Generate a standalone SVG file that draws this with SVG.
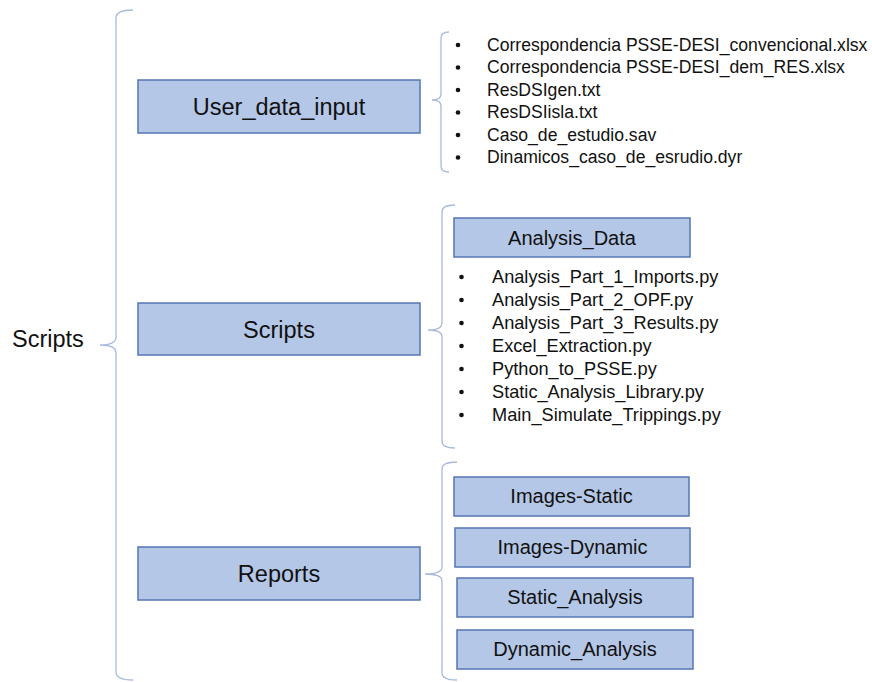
<svg xmlns="http://www.w3.org/2000/svg" width="872" height="682" viewBox="0 0 872 682">
  <style>
    .box { fill: #b4c7e7; stroke: #5676b4; stroke-width: 1.5; }
    .brace { fill: none; stroke: #a8bbdf; stroke-width: 1.3; }
    .lbl { font-family: "Liberation Sans", Arial, sans-serif; fill: #111; text-anchor: middle; }
    .big { font-size: 23.5px; }
    .mid { font-size: 20px; }
    .item { font-family: "Liberation Sans", Arial, sans-serif; fill: #111; font-size: 17.6px; }
    .item2 { font-size: 18.2px; }
    .dot { fill: #111; }
  </style>
  <rect width="872" height="682" fill="#ffffff"/>

  <!-- root label -->
  <g id="root">
    <text x="12" y="347" font-family="Liberation Sans, Arial, sans-serif" font-size="23.5" fill="#111">Scripts</text>
  </g>

  <!-- curly braces -->
  <g id="connectors">
    <path class="brace" d="M133,10 Q116,10 116,18 L116,337 Q116,345 100,345 Q116,345 116,353 L116,672 Q116,680 133,680"/>
    <path class="brace" d="M449,32 Q441,32 441,38 L441,94 Q441,100 432,100 Q441,100 441,106 L441,166 Q441,172 449,172"/>
    <path class="brace" d="M455,205 Q442,205 442,212 L442,323 Q442,330 428,330 Q442,330 442,337 L442,441 Q442,448 455,448"/>
    <path class="brace" d="M457,462 Q442,462 442,469 L442,567 Q442,574 425,574 Q442,574 442,581 L442,673 Q442,680 457,680"/>
  </g>

  <g id="user_data_input">
    <rect class="box" x="138" y="80" width="282" height="53"/>
    <text class="lbl big" x="279" y="115">User_data_input</text>
  </g>

  <g id="user_data_files">
    <circle class="dot" cx="458" cy="45" r="2.3"/>
    <circle class="dot" cx="458" cy="67.5" r="2.3"/>
    <circle class="dot" cx="458" cy="90" r="2.3"/>
    <circle class="dot" cx="458" cy="112.5" r="2.3"/>
    <circle class="dot" cx="458" cy="135" r="2.3"/>
    <circle class="dot" cx="458" cy="157.5" r="2.3"/>
    <text class="item" x="487" y="50.5">Correspondencia PSSE-DESI_convencional.xlsx</text>
    <text class="item" x="487" y="73">Correspondencia PSSE-DESI_dem_RES.xlsx</text>
    <text class="item" x="487" y="95.5">ResDSIgen.txt</text>
    <text class="item" x="487" y="118">ResDSIisla.txt</text>
    <text class="item" x="487" y="140.5">Caso_de_estudio.sav</text>
    <text class="item" x="487" y="163">Dinamicos_caso_de_esrudio.dyr</text>
  </g>

  <g id="scripts">
    <rect class="box" x="138" y="303" width="282" height="52"/>
    <text class="lbl big" x="279" y="338">Scripts</text>
  </g>

  <g id="analysis_data">
    <rect class="box" x="454" y="218" width="236" height="39"/>
    <text class="lbl mid" x="572" y="244.5">Analysis_Data</text>
  </g>

  <g id="script_files">
    <circle class="dot" cx="461.5" cy="277" r="2.3"/>
    <circle class="dot" cx="461.5" cy="300" r="2.3"/>
    <circle class="dot" cx="461.5" cy="323" r="2.3"/>
    <circle class="dot" cx="461.5" cy="346" r="2.3"/>
    <circle class="dot" cx="461.5" cy="369" r="2.3"/>
    <circle class="dot" cx="461.5" cy="392" r="2.3"/>
    <circle class="dot" cx="461.5" cy="415" r="2.3"/>
    <text class="item item2" x="492" y="282.5">Analysis_Part_1_Imports.py</text>
    <text class="item item2" x="492" y="305.5">Analysis_Part_2_OPF.py</text>
    <text class="item item2" x="492" y="328.5">Analysis_Part_3_Results.py</text>
    <text class="item item2" x="492" y="351.5">Excel_Extraction.py</text>
    <text class="item item2" x="492" y="374.5">Python_to_PSSE.py</text>
    <text class="item item2" x="492" y="397.5">Static_Analysis_Library.py</text>
    <text class="item item2" x="492" y="420.5">Main_Simulate_Trippings.py</text>
  </g>

  <g id="reports">
    <rect class="box" x="138" y="547" width="282" height="53"/>
    <text class="lbl big" x="279" y="582">Reports</text>
  </g>

  <g id="images_static">
    <rect class="box" x="454" y="477" width="235" height="39"/>
    <text class="lbl mid" x="571.5" y="503">Images-Static</text>
  </g>

  <g id="images_dynamic">
    <rect class="box" x="455" y="528" width="235" height="39"/>
    <text class="lbl mid" x="572.5" y="554">Images-Dynamic</text>
  </g>

  <g id="static_analysis">
    <rect class="box" x="457" y="578" width="236" height="39"/>
    <text class="lbl mid" x="575" y="604">Static_Analysis</text>
  </g>

  <g id="dynamic_analysis">
    <rect class="box" x="457" y="630" width="236" height="39"/>
    <text class="lbl mid" x="575" y="656">Dynamic_Analysis</text>
  </g>
</svg>
